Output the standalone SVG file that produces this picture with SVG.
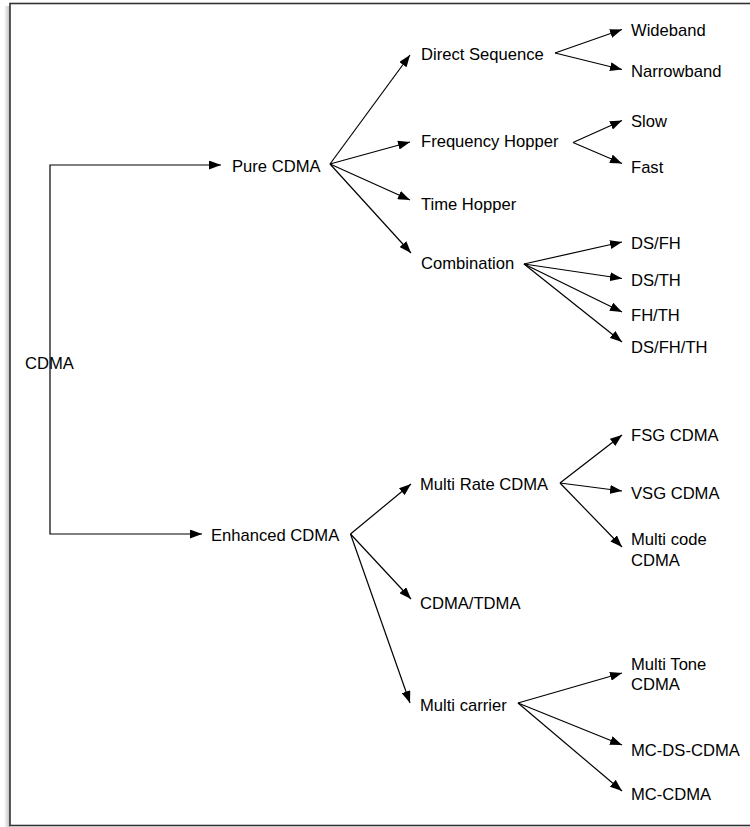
<svg xmlns="http://www.w3.org/2000/svg" width="750" height="827" viewBox="0 0 750 827">
<defs>
<marker id="ah" markerUnits="userSpaceOnUse" markerWidth="13" markerHeight="9" refX="12" refY="4.5" orient="auto">
<path d="M0,0 L12,4.5 L0,9 z" fill="#000"/>
</marker>
<linearGradient id="sh" x1="0" x2="1" y1="0" y2="0">
<stop offset="0" stop-color="#fff"/>
<stop offset="1" stop-color="#bbb"/>
</linearGradient>
</defs>
<style>
text{font-family:"Liberation Sans",Arial,sans-serif;font-size:16.6px;fill:#000}
.c{fill:none;stroke:#000;stroke-width:1.2;marker-end:url(#ah)}
</style>
<rect x="0" y="0" width="750" height="827" fill="#fff"/>
<rect x="4" y="6" width="6" height="821" fill="url(#sh)"/>
<rect x="10" y="3.5" width="745" height="822" fill="#fff" stroke="#333" stroke-width="1.6"/>
<g id="connectors">
<path class="c" d="M50,360 V165 H221"/>
<path class="c" d="M50,360 V534 H202"/>
<path class="c" d="M330,164 L410,55"/>
<path class="c" d="M330,164 L410,142"/>
<path class="c" d="M330,164 L410,200"/>
<path class="c" d="M330,164 L411,253"/>
<path class="c" d="M555,53 L622,29.5"/>
<path class="c" d="M555,53 L622,69.5"/>
<path class="c" d="M573,142.5 L622,120.5"/>
<path class="c" d="M573,142.5 L622,163.5"/>
<path class="c" d="M524,264 L622,242"/>
<path class="c" d="M524,264 L622,278.5"/>
<path class="c" d="M524,264 L622,312"/>
<path class="c" d="M524,264 L622,342"/>
<path class="c" d="M350.5,534 L411,484"/>
<path class="c" d="M350.5,534 L411,599"/>
<path class="c" d="M350.5,534 L410,703"/>
<path class="c" d="M560,483 L622,435"/>
<path class="c" d="M560,483 L622,491"/>
<path class="c" d="M560,483 L622,547"/>
<path class="c" d="M518,703 L622,673"/>
<path class="c" d="M518,703 L622,745"/>
<path class="c" d="M518,703 L622,791"/>
</g>
<g id="n-cdma"><text x="25" y="369">CDMA</text></g>
<g id="n-pure"><text x="232" y="172">Pure CDMA</text></g>
<g id="n-enhanced"><text x="211" y="541">Enhanced CDMA</text></g>
<g id="n-ds"><text x="421" y="60">Direct Sequence</text></g>
<g id="n-fh"><text x="421" y="147">Frequency Hopper</text></g>
<g id="n-th"><text x="421" y="210">Time Hopper</text></g>
<g id="n-comb"><text x="421" y="269">Combination</text></g>
<g id="n-wide"><text x="631" y="36">Wideband</text></g>
<g id="n-narrow"><text x="631" y="77">Narrowband</text></g>
<g id="n-slow"><text x="631" y="127">Slow</text></g>
<g id="n-fast"><text x="631" y="172.5">Fast</text></g>
<g id="n-dsfh"><text x="631" y="249">DS/FH</text></g>
<g id="n-dsth"><text x="631" y="286">DS/TH</text></g>
<g id="n-fhth"><text x="631" y="320.5">FH/TH</text></g>
<g id="n-dsfhth"><text x="631" y="352.5">DS/FH/TH</text></g>
<g id="n-mr"><text x="420" y="490">Multi Rate CDMA</text></g>
<g id="n-ct"><text x="420" y="609">CDMA/TDMA</text></g>
<g id="n-mc"><text x="420" y="710.5">Multi carrier</text></g>
<g id="n-fsg"><text x="631" y="441">FSG CDMA</text></g>
<g id="n-vsg"><text x="631" y="499">VSG CDMA</text></g>
<g id="n-mcode"><text x="631" y="545">Multi code</text><text x="631" y="565.5">CDMA</text></g>
<g id="n-mtone"><text x="631" y="670">Multi Tone</text><text x="631" y="690">CDMA</text></g>
<g id="n-mcds"><text x="631" y="756">MC-DS-CDMA</text></g>
<g id="n-mccdma"><text x="631" y="800">MC-CDMA</text></g>
</svg>
